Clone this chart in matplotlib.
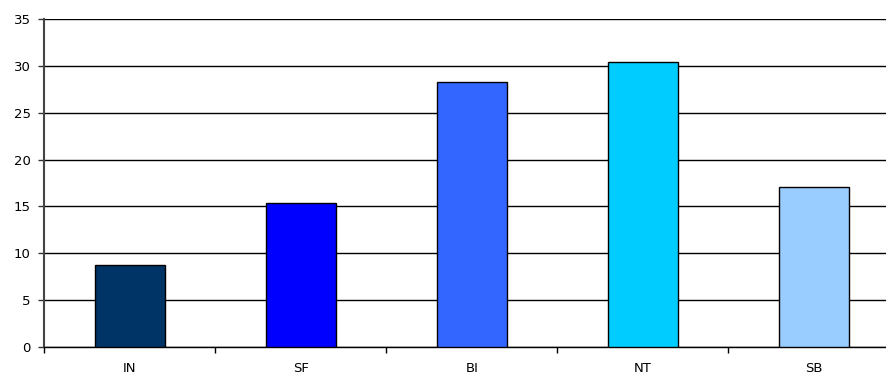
import numpy as np
import matplotlib.pyplot as plt

plt.rcParams['font.family'] = ['DejaVu Sans']

# data
categories = ['IN', 'SF', 'BI', 'NT', 'SB']
values = [8.8, 15.4, 28.3, 30.4, 17.1]
colors = ['#003366', '#0000FF', '#3366FF', '#00CCFF', '#99CCFF']
yticks = [0, 5, 10, 15, 20, 25, 30, 35]

fig = plt.figure(figsize=(8.86, 3.76), dpi=100)
# plot area runs slightly past the right edge, like the original
ax = fig.add_axes([0.0502, 0.0771, 0.965, 0.8723])

x = np.arange(len(categories))
ax.bar(x, values, width=0.41, color=colors, edgecolor='black', linewidth=1.0, zorder=3)

ax.set_xlim(-0.5, len(categories) - 0.5)
ax.set_ylim(0, 35)
ax.set_yticks(yticks)
ax.yaxis.grid(True, color='black', linewidth=1.0, zorder=0)
ax.set_axisbelow(True)

# category labels centred, ticks at the boundaries
ax.set_xticks(x)
ax.set_xticklabels(categories, fontsize=9.5)
ax.tick_params(axis='x', length=0, pad=11)
ax.set_xticks(np.arange(len(categories) + 1) - 0.5, minor=True)
ax.tick_params(axis='x', which='minor', length=4, width=1, color='black')
ax.tick_params(axis='y', length=4, width=1, color='#333333', labelsize=9.5, pad=6)

ax.spines['right'].set_visible(False)
ax.spines['top'].set_visible(False)
ax.spines['left'].set_color('#444444')
ax.spines['left'].set_linewidth(1.5)
ax.spines['bottom'].set_color('black')
ax.spines['bottom'].set_linewidth(1.0)

plt.savefig('out.png', dpi=100)
